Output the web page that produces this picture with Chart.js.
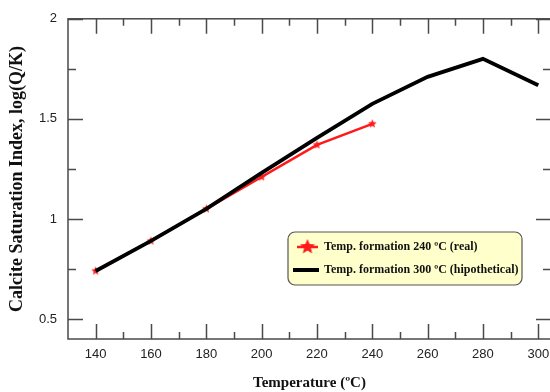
<!DOCTYPE html>
<html>
<head>
<meta charset="utf-8">
<script src="https://cdn.jsdelivr.net/npm/chart.js@4.4.1/dist/chart.umd.min.js"></script>
<style>
  html, body { margin: 0; padding: 0; background: #fff; }
  #chart { display: block; }
</style>
</head>
<body>
<canvas id="chart" width="550" height="392"></canvas>
<script>
// temperatures (ºC) and calcite saturation index log(Q/K)
const realTemps = [140, 160, 180, 200, 220, 240];
const realSI = [0.74, 0.89, 1.05, 1.21, 1.37, 1.475];
const hypoTemps = [140, 160, 180, 200, 220, 240, 260, 280, 300];
const hypoSI = [0.74, 0.89, 1.05, 1.23, 1.405, 1.575, 1.71, 1.80, 1.668];

const xTickLabels = [140, 160, 180, 200, 220, 240, 260, 280, 300];
const yTickLabels = [0.5, 1, 1.5, 2];

const seriesLabels = ["Temp. formation 240 ºC (real)", "Temp. formation 300 ºC (hipothetical)"];

const axisColor = "#4a4a4a";
const plotRight = 551; // right frame sits just past the picture edge

function makeStar(r, color) {
  const c = document.createElement("canvas");
  c.width = c.height = Math.ceil(r * 2 + 2);
  const g = c.getContext("2d");
  const cx = c.width / 2, cy = c.height / 2;
  g.beginPath();
  for (let i = 0; i < 10; i++) {
    const rad = i % 2 === 0 ? r : r * 0.45;
    const a = -Math.PI / 2 + i * Math.PI / 5;
    const px = cx + rad * Math.cos(a), py = cy + rad * Math.sin(a);
    if (i === 0) g.moveTo(px, py); else g.lineTo(px, py);
  }
  g.closePath();
  g.fillStyle = color;
  g.fill();
  return c;
}

const smallStar = makeStar(4.5, "#ff1a1a");
const bigStar = makeStar(8, "#ff1a1a");

function isMultiple(v, step) {
  return Math.abs(v / step - Math.round(v / step)) < 1e-6;
}

// tick values every step between two bounds (minor + major)
function stepTicks(from, to, step) {
  const out = [];
  for (let i = 0; from + i * step <= to + 1e-9; i++) {
    out.push({ value: +(from + i * step).toFixed(4) });
  }
  return out;
}

// stretch the plot area out to the right edge
const stretchRight = {
  id: "stretchRight",
  afterLayout(chart) {
    const xs = chart.scales.x;
    const a = chart.chartArea;
    a.right = plotRight;
    a.width = a.right - a.left;
    xs.right = plotRight;
    xs.width = xs.right - xs.left;
    xs.configure();
  }
};

// box round the plot and inward ticks on all four sides
const frameTicks = {
  id: "frameTicks",
  afterDraw(chart) {
    const ctx = chart.ctx;
    const a = chart.chartArea;
    const xs = chart.scales.x, ys = chart.scales.y;
    ctx.save();
    ctx.strokeStyle = axisColor;
    ctx.lineWidth = 1.5;
    ctx.strokeRect(a.left, a.top, a.right - a.left, a.bottom - a.top);
    ctx.beginPath();
    xs.ticks.forEach((t) => {
      const len = isMultiple(t.value, 20) ? 15 : 7;
      const px = Math.round(xs.getPixelForValue(t.value)) + 0.5;
      ctx.moveTo(px, a.bottom); ctx.lineTo(px, a.bottom - len);
      ctx.moveTo(px, a.top); ctx.lineTo(px, a.top + len);
    });
    ys.ticks.forEach((t) => {
      const len = isMultiple(t.value, 0.5) ? 15 : 8;
      const py = Math.round(ys.getPixelForValue(t.value)) + 0.5;
      ctx.moveTo(a.left, py); ctx.lineTo(a.left + len, py);
      ctx.moveTo(a.right, py); ctx.lineTo(a.right - len, py);
    });
    ctx.stroke();
    ctx.restore();
  }
};

// legend box inside the plot
const boxLegend = {
  id: "boxLegend",
  afterDraw(chart) {
    const ctx = chart.ctx;
    const x = 288, y = 232, w = 234, h = 53, r = 7;
    ctx.save();
    ctx.beginPath();
    ctx.roundRect(x, y, w, h, r);
    ctx.fillStyle = "#ffffcc";
    ctx.fill();
    ctx.strokeStyle = "#555";
    ctx.lineWidth = 1.2;
    ctx.stroke();

    ctx.font = "bold 12px 'Liberation Serif', 'Times New Roman', serif";
    ctx.textBaseline = "middle";
    ctx.fillStyle = "#111";

    const row1 = y + 15, row2 = y + 38;
    // red row
    ctx.strokeStyle = "#ff1a1a";
    ctx.lineWidth = 2.5;
    ctx.beginPath();
    ctx.moveTo(297, row1); ctx.lineTo(318, row1);
    ctx.stroke();
    ctx.drawImage(bigStar, 307.5 - bigStar.width / 2, row1 - bigStar.height / 2);
    ctx.fillText(chart.data.datasets[1].label, 324, row1);
    // black row
    ctx.strokeStyle = "#000";
    ctx.lineWidth = 4;
    ctx.beginPath();
    ctx.moveTo(293, row2); ctx.lineTo(319, row2);
    ctx.stroke();
    ctx.fillText(chart.data.datasets[0].label, 324, row2);
    ctx.restore();
  }
};

const pairs = (xs, ys) => xs.map((v, i) => ({ x: v, y: ys[i] }));

new Chart(document.getElementById("chart"), {
  type: "line",
  data: {
    datasets: [
      {
        label: seriesLabels[1],
        data: pairs(hypoTemps, hypoSI),
        borderColor: "#000",
        borderWidth: 3.8,
        pointRadius: 0,
        tension: 0,
        order: 0
      },
      {
        label: seriesLabels[0],
        data: pairs(realTemps, realSI),
        borderColor: "#ff1a1a",
        borderWidth: 2.5,
        pointStyle: smallStar,
        pointRadius: 4,
        tension: 0,
        order: 1
      }
    ]
  },
  options: {
    responsive: false,
    animation: false,
    layout: { autoPadding: false, padding: { left: 0, right: 0, top: 16, bottom: 0 } },
    plugins: {
      legend: { display: false },
      tooltip: { enabled: false }
    },
    scales: {
      x: {
        type: "linear",
        min: 130,
        max: 304.6,
        grid: { display: false, drawTicks: false },
        border: { display: false },
        afterBuildTicks: (scale) => { scale.ticks = stepTicks(140, 300, 10); },
        ticks: {
          padding: 8,
          color: "#222",
          font: { family: "'Liberation Sans', Arial, sans-serif", size: 13 },
          autoSkip: false,
          maxRotation: 0,
          callback: (v) => (xTickLabels.includes(v) ? String(v) : "")
        },
        title: {
          display: true,
          text: "Temperature (ºC)",
          color: "#111",
          padding: { top: 0, bottom: 0 },
          font: { family: "'Liberation Serif', 'Times New Roman', serif", size: 15, weight: "bold" }
        },
        afterFit: (scale) => { scale.height = 53; }
      },
      y: {
        min: 0.4,
        max: 2,
        grid: { display: false, drawTicks: false },
        border: { display: false },
        afterBuildTicks: (scale) => { scale.ticks = stepTicks(0.5, 2, 0.25); },
        ticks: {
          padding: 11,
          color: "#222",
          font: { family: "'Liberation Sans', Arial, sans-serif", size: 13 },
          autoSkip: false,
          callback: (v) => {
            const hit = yTickLabels.find((t) => Math.abs(t - v) < 1e-6);
            return hit === undefined ? "" : String(hit);
          }
        },
        title: {
          display: true,
          text: "Calcite Saturation Index, log(Q/K)",
          color: "#111",
          padding: { top: 7, bottom: 0 },
          font: { family: "'Liberation Serif', 'Times New Roman', serif", size: 18, weight: "bold" }
        },
        afterFit: (scale) => { scale.width = 68; }
      }
    }
  },
  plugins: [stretchRight, frameTicks, boxLegend]
});
</script>
</body>
</html>
